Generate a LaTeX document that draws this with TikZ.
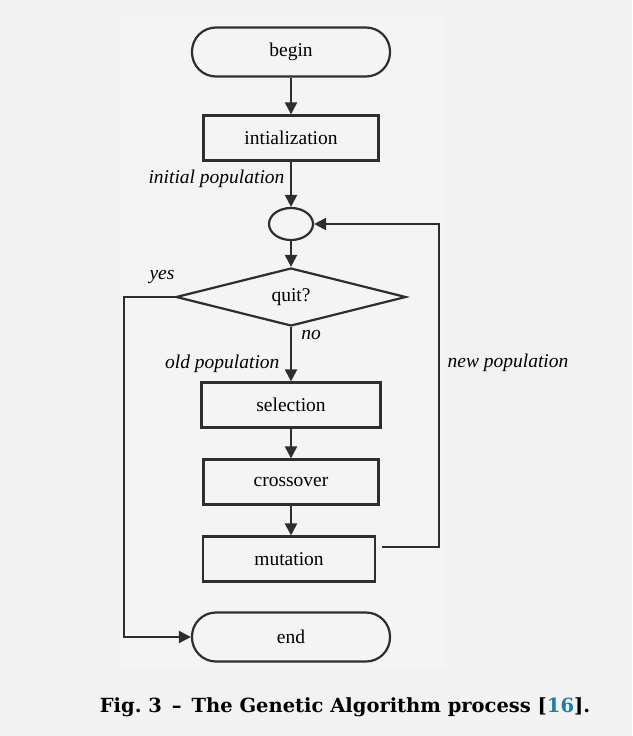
\documentclass[tikz,border=0pt]{standalone}
\usepackage{fontspec}
\setmainfont{Liberation Serif}
\newfontfamily\capfont{DejaVu Serif}
\usepackage{xcolor}
\usepackage{tikz}
\usetikzlibrary{arrows.meta,shapes.geometric,calc}

\definecolor{pagebg}{HTML}{F2F2F2}
\definecolor{figbg}{HTML}{F4F4F4}
\definecolor{linegray}{HTML}{2E2E2E}
\definecolor{citeblue}{HTML}{1B7FA6}

\begin{document}
\begin{tikzpicture}[x=1pt,y=-1pt,
    every node/.style={font=\fontsize{19.5}{22}\selectfont},
    term/.style={draw=linegray,line width=2.2pt,rounded corners=24pt,minimum width=198pt,minimum height=49pt,inner sep=0pt},
    proc/.style={draw=linegray,line width=2.2pt,minimum width=175pt,minimum height=45pt,inner sep=0pt},
    quitbox/.style={draw=linegray,line width=2.2pt,diamond,aspect=4,minimum width=230pt,minimum height=58pt,inner sep=0pt},
    joint/.style={draw=linegray,line width=2.2pt,ellipse,minimum width=44pt,minimum height=32pt,inner sep=0pt},
    flow/.style={draw=linegray,line width=2.2pt,-{Triangle[length=12pt,width=12pt]}},
    lab/.style={font=\fontsize{19.5}{22}\selectfont\itshape}]
  % background
  \fill[pagebg] (0,0) rectangle (632,736);
  \fill[figbg] (120,15) rectangle (446,668);
  \useasboundingbox (0,0) rectangle (632,736);
  % boxes
  \node[term] (begin) at (291,52) {begin};
  \node[proc] (init) at (291,138) {intialization};
  \node[joint] (merge) at (291,224) {};
  \node[quitbox] (quit) at (291,297) {quit?};
  \node[proc,minimum width=179pt] (sel) at (291,405) {selection};
  \node[proc] (cross) at (291,482) {crossover};
  \node[proc,minimum width=172pt] (mut) at (289,559) {mutation};
  \node[term] (end) at (291,637) {end};
  % corners of the loops
  \coordinate (yescorner) at (124,297);
  \coordinate (newcorner) at (439,547);
  % arrows
  \draw[flow] (begin) -- (init);
  \draw[flow] (init) -- (merge);
  \draw[flow] (merge) -- (quit);
  \draw[flow] (quit.south) -- (sel.north);
  \draw[flow] (sel) -- (cross);
  \draw[flow] (cross.south) -- (cross.south |- mut.north);
  \draw[flow] (quit.west) -- (yescorner) |- (end.west);
  \draw[flow] ($(mut.east)+(6,-12)$) -- (newcorner) |- (merge.east);
  % labels
  \node[lab,anchor=east] (initlab) at (288,179) {initial population};
  \node[lab] (yeslab) at (162,277) {yes};
  \node[lab] (nolab) at (311,335) {no};
  \node[lab,anchor=east] (oldlab) at (283,364) {old population};
  \node[lab] (newlab) at (508,363) {new population};
  % caption
  \node[font=\capfont\bfseries\fontsize{19.5}{22}\selectfont] (caption) at (345,707)
    {Fig.~3 \,–\, The Genetic Algorithm process [\textcolor{citeblue}{16}].};
\end{tikzpicture}
\end{document}
